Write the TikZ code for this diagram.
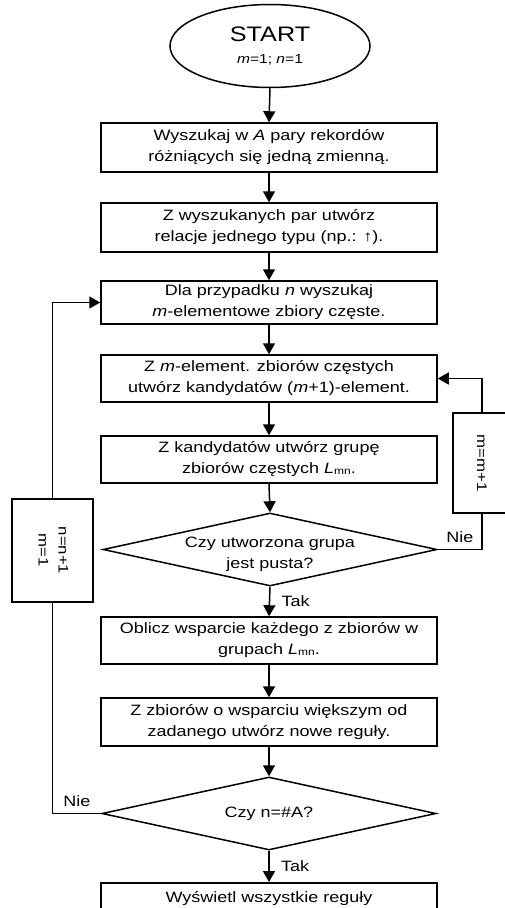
\documentclass[tikz,border=0pt]{standalone}
\usepackage{fontspec}
\setmainfont{Liberation Sans}[FakeStretch=1.2]
\usetikzlibrary{shapes.geometric,arrows.meta}

\newcommand{\Lmn}{\textit{L}\raisebox{-1pt}{\fontsize{10}{10}\selectfont mn}}
\newcommand{\nizej}[1]{\raisebox{-8pt}[0pt][0pt]{#1}}

\begin{document}
\begin{tikzpicture}[x=1pt,y=-1pt,
	line width=1.5pt,
	font=\fontsize{15}{21}\selectfont,
	krok/.style={rectangle,draw,align=center,minimum width=336pt,inner sep=0pt},
	decyzja/.style={diamond,draw,align=center,aspect=4.6,minimum width=334pt,minimum height=73pt,inner sep=0pt},
	licznik/.style={rectangle,draw,inner sep=0pt,font=\fontsize{14}{20}\selectfont},
	strz/.style={-{Triangle[length=11pt,width=12pt]}}]

	\useasboundingbox (0,0) rectangle (505,908);
	\clip (0,0) rectangle (505,908);

	% start

	\node[ellipse,draw,minimum width=200pt,minimum height=83pt,inner sep=0pt,align=center] (start) at (270,46)
		{{\fontsize{21}{21}\selectfont START}\\[1pt]{\fontsize{13}{15}\selectfont\textit{m}=1; \textit{n}=1}};

	% steps

	\node[krok,minimum height=49pt] (szukaj) at (269,147.5) {Wyszukaj w \textit{A} pary rekordów\\różniących się jedną zmienną.};
	\node[krok,minimum height=49pt] (relacje) at (269,227.5) {Z wyszukanych par utwórz\\relacje jednego typu (np.: ↑).};
	\node[krok,minimum height=43pt] (dla) at (269,302.5) {Dla przypadku \textit{n} wyszukaj\\\textit{m}-elementowe zbiory częste.};
	\node[krok,minimum height=47pt] (zbuduj) at (269,378.5) {Z \textit{m}-element. zbiorów częstych\\utwórz kandydatów (\textit{m}+1)-element.};
	\node[krok,minimum height=47pt] (grupa) at (269,459.5) {Z kandydatów utwórz grupę\\zbiorów częstych \Lmn.};
	\node[decyzja] (pusta) at (270,549.5) {\nizej{\begin{tabular}{@{}c@{}}Czy utworzona grupa\\jest pusta?\end{tabular}}};
	\node[krok,minimum height=47pt] (wsparcie) at (269,640.5) {Oblicz wsparcie każdego z zbiorów w\\grupach \Lmn.};
	\node[krok,minimum height=48pt] (reguly) at (269,722) {Z zbiorów o wsparciu większym od\\zadanego utwórz nowe reguły.};
	\node[decyzja] (koniec) at (269,813.5) {Czy n=\#A?};
	\node[krok,minimum height=31pt,anchor=north] (wyswietl) at (269,882) {Wyświetl wszystkie reguły};

	% counters

	\node[licznik,minimum width=81pt,minimum height=103pt] (nbox) at (52.5,550.5)
		{\rotatebox{-90}{\begin{tabular}{@{}c@{}}n=n+1\\m=1\end{tabular}}};
	\node[licznik,minimum width=58pt,minimum height=100pt] (mbox) at (482,463)
		{\rotatebox{-90}{m=m+1}};

	% arrows

	\draw[strz] (start.south) -- (szukaj.north);
	\draw[strz] (szukaj.south) -- (relacje.north);
	\draw[strz] (relacje.south) -- (dla.north);
	\draw[strz] (dla.south) -- (zbuduj.north);
	\draw[strz] (zbuduj.south) -- (grupa.north);
	\draw[strz] (grupa.south) -- (pusta.north);
	\draw[strz] (pusta.south) -- node[right=8pt]{Tak} (wsparcie.north);
	\draw[strz] (wsparcie.south) -- (reguly.north);
	\draw[strz] (reguly.south) -- (koniec.north);
	\draw[strz] (koniec.south) -- node[right=8pt]{Tak} (wyswietl.north);

	% loops

	\draw (pusta.east) -| node[pos=0.25,above=3pt]{Nie} (mbox.south);
	\draw[strz] (mbox.north) |- (zbuduj.east);
	\draw (koniec.west) -| node[pos=0.25,above=3pt]{Nie} (nbox.south);
	\draw[strz] (nbox.north) |- (dla.west);
\end{tikzpicture}
\end{document}
